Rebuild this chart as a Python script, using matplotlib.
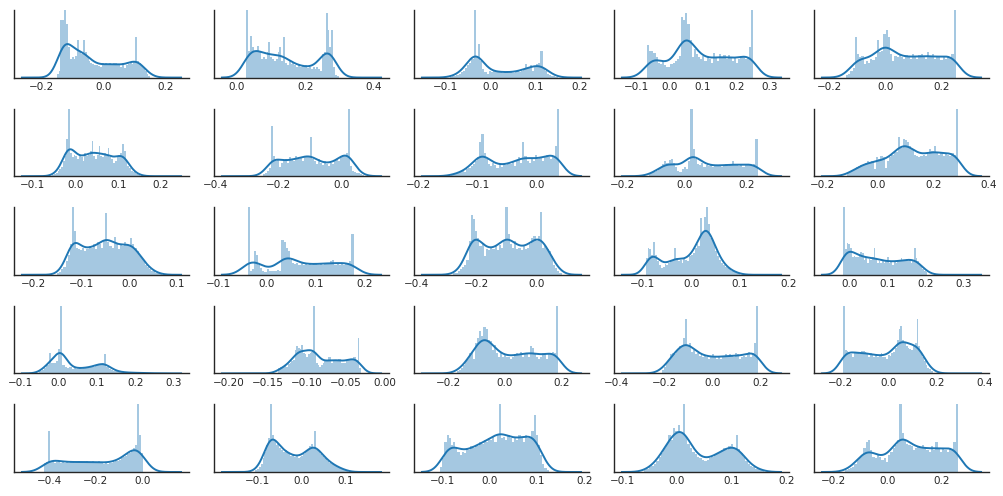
import numpy as np
import matplotlib
matplotlib.use('Agg')
import matplotlib.pyplot as plt

# histogram range (first / last bin edge) of each panel, row by row
hist_lo = [-0.15, 0.027, -0.09, -0.067, -0.14,
           -0.055, -0.25, -0.145, -0.115, -0.11,
           -0.15, -0.04, -0.276, -0.093, -0.015,
           -0.05, -0.137, -0.168, -0.21, -0.188,
           -0.42, -0.105, -0.105, -0.06, -0.155]
hist_hi = [0.15, 0.297, 0.15, 0.25, 0.25,
           0.155, 0.07, 0.037, 0.235, 0.29,
           0.068, 0.178, 0.084, 0.1, 0.205,
           0.25, -0.031, 0.189, 0.19, 0.185,
           0.0, 0.105, 0.125, 0.16, 0.26]

# 50 bar heights per panel (relative, tallest bar = 100)
heights = [
    [5, 10, 85, 85, 100, 80, 45, 28, 30, 28, 32, 55, 40, 35, 55, 38, 30, 25, 22, 20,
     18, 18, 17, 16, 22, 20, 22, 19, 21, 18, 21, 22, 18, 20, 16, 22, 14, 18, 20, 22,
     20, 24, 60, 25, 22, 18, 14, 10, 6, 3],
    [100, 40, 62, 45, 40, 38, 47, 40, 28, 30, 28, 38, 52, 30, 28, 25, 28, 38, 45, 25,
     60, 22, 18, 25, 20, 22, 18, 15, 20, 16, 18, 16, 18, 14, 15, 12, 15, 13, 16, 12,
     10, 35, 38, 96, 70, 45, 70, 15, 4, 2],
    [1, 2, 3, 4, 6, 8, 10, 14, 18, 22, 28, 100, 30, 50, 25, 12, 8, 6, 10, 8,
     10, 9, 8, 9, 7, 8, 9, 7, 8, 7, 8, 9, 8, 10, 12, 20, 14, 18, 10, 15,
     20, 22, 40, 14, 10, 6, 4, 3, 2, 1],
    [48, 40, 40, 36, 30, 22, 20, 24, 18, 16, 15, 20, 22, 25, 28, 32, 90, 85, 95, 80,
     55, 30, 42, 35, 30, 28, 32, 25, 30, 28, 22, 36, 30, 25, 35, 30, 34, 28, 33, 30,
     25, 30, 22, 28, 32, 30, 28, 30, 45, 100],
    [4, 6, 10, 14, 60, 35, 30, 32, 20, 25, 22, 28, 26, 30, 55, 38, 40, 65, 70, 60,
     35, 25, 32, 30, 35, 30, 28, 33, 30, 28, 35, 30, 28, 33, 35, 30, 28, 38, 30, 35,
     28, 32, 30, 26, 30, 28, 32, 30, 35, 100],
    [2, 3, 5, 8, 10, 14, 22, 30, 55, 100, 35, 28, 32, 30, 25, 32, 28, 22, 35, 30,
     32, 38, 52, 30, 25, 32, 45, 30, 28, 35, 30, 42, 28, 25, 20, 22, 30, 32, 35, 47,
     38, 22, 15, 12, 8, 6, 4, 3, 2, 1],
    [3, 5, 8, 12, 75, 30, 22, 26, 14, 20, 22, 26, 20, 28, 24, 22, 30, 26, 28, 22,
     30, 28, 30, 58, 26, 22, 18, 25, 20, 16, 22, 18, 15, 20, 18, 22, 25, 22, 28, 32,
     30, 35, 100, 15, 8, 6, 5, 4, 3, 2],
    [2, 3, 4, 5, 6, 8, 6, 10, 12, 15, 18, 22, 28, 50, 62, 35, 25, 18, 15, 20,
     16, 12, 18, 14, 18, 16, 20, 18, 22, 15, 24, 28, 20, 50, 30, 22, 20, 26, 22, 32,
     25, 28, 22, 30, 32, 28, 25, 28, 45, 100],
    [3, 4, 6, 8, 10, 12, 18, 22, 20, 24, 26, 20, 14, 8, 6, 10, 14, 10, 22, 100,
     40, 25, 18, 16, 20, 14, 16, 15, 18, 14, 16, 15, 17, 14, 16, 18, 15, 17, 22, 16,
     18, 15, 17, 14, 18, 16, 18, 15, 18, 55],
    [4, 6, 8, 10, 14, 15, 16, 18, 20, 22, 20, 22, 10, 28, 26, 30, 28, 12, 22, 28,
     32, 38, 36, 58, 42, 55, 54, 50, 45, 40, 32, 30, 28, 30, 32, 30, 33, 40, 38, 45,
     34, 32, 35, 30, 33, 32, 30, 34, 32, 100],
    [2, 4, 8, 12, 20, 30, 45, 100, 65, 40, 38, 36, 40, 35, 38, 42, 40, 45, 38, 48,
     45, 40, 50, 92, 48, 42, 40, 56, 45, 38, 45, 42, 48, 45, 42, 55, 45, 40, 35, 28,
     25, 20, 15, 12, 8, 6, 5, 3, 2, 1],
    [100, 5, 8, 35, 30, 15, 10, 6, 4, 8, 6, 5, 6, 5, 7, 6, 52, 48, 40, 35,
     22, 18, 16, 18, 15, 17, 14, 16, 15, 17, 14, 16, 18, 15, 16, 14, 18, 16, 17, 20,
     22, 15, 16, 14, 17, 15, 16, 18, 20, 60],
    [2, 3, 5, 8, 12, 15, 22, 50, 89, 82, 65, 55, 42, 45, 28, 38, 36, 40, 38, 42,
     36, 44, 40, 50, 100, 60, 45, 40, 50, 38, 40, 36, 42, 38, 40, 45, 55, 57, 50, 58,
     93, 40, 42, 38, 35, 28, 15, 10, 6, 3],
    [25, 40, 38, 30, 49, 30, 20, 15, 10, 12, 16, 15, 18, 20, 22, 40, 25, 20, 22, 18,
     25, 22, 20, 28, 30, 32, 40, 45, 42, 84, 62, 86, 100, 75, 55, 50, 45, 35, 28, 22,
     18, 14, 12, 10, 8, 6, 5, 4, 3, 2],
    [100, 38, 47, 45, 40, 27, 28, 27, 26, 28, 33, 32, 22, 26, 18, 24, 22, 26, 40, 25,
     18, 20, 18, 20, 18, 22, 27, 18, 20, 14, 20, 18, 20, 22, 25, 20, 22, 24, 20, 22,
     18, 22, 40, 25, 20, 15, 12, 8, 6, 4],
    [3, 5, 8, 12, 30, 16, 15, 18, 36, 100, 12, 10, 8, 9, 7, 8, 7, 8, 7, 8,
     9, 8, 10, 10, 12, 13, 14, 15, 28, 10, 7, 5, 4, 3, 2, 2, 2, 1, 1, 1,
     1, 1, 1, 1, 0, 1, 0, 0, 0, 1],
    [8, 10, 8, 10, 12, 10, 14, 15, 18, 20, 35, 40, 38, 36, 42, 30, 28, 25, 28, 30,
     32, 100, 30, 15, 12, 10, 12, 15, 18, 20, 25, 25, 15, 18, 20, 20, 22, 22, 15, 16,
     15, 18, 20, 22, 22, 24, 25, 20, 52, 8],
    [3, 5, 8, 12, 18, 22, 30, 32, 22, 45, 52, 62, 55, 68, 65, 50, 48, 35, 42, 30,
     25, 30, 25, 28, 24, 25, 22, 25, 28, 30, 28, 32, 25, 28, 30, 25, 40, 38, 30, 25,
     22, 25, 30, 28, 22, 28, 30, 32, 30, 100],
    [5, 10, 15, 20, 28, 30, 28, 35, 35, 40, 40, 52, 80, 42, 45, 32, 35, 28, 30, 26,
     28, 25, 26, 24, 22, 25, 28, 24, 22, 25, 22, 24, 26, 28, 25, 28, 26, 24, 30, 28,
     22, 25, 26, 24, 28, 32, 25, 30, 45, 100],
    [100, 35, 33, 30, 28, 25, 30, 32, 30, 28, 33, 33, 32, 30, 25, 30, 28, 25, 28, 25,
     27, 30, 25, 24, 22, 27, 26, 30, 32, 38, 50, 65, 70, 50, 45, 40, 38, 36, 35, 40,
     45, 80, 40, 30, 25, 18, 12, 8, 6, 4],
    [14, 15, 60, 15, 16, 14, 15, 16, 13, 15, 14, 16, 14, 15, 16, 13, 15, 16, 14, 14,
     15, 16, 13, 15, 16, 14, 15, 16, 14, 15, 12, 13, 12, 14, 13, 15, 16, 17, 18, 20,
     22, 24, 26, 28, 32, 36, 40, 100, 55, 28],
    [3, 4, 7, 12, 20, 30, 40, 50, 100, 55, 48, 40, 42, 35, 33, 30, 32, 28, 28, 24,
     25, 22, 23, 20, 22, 24, 27, 30, 33, 38, 42, 35, 60, 32, 32, 27, 24, 20, 20, 16,
     14, 12, 10, 9, 8, 6, 5, 4, 3, 2],
    [8, 20, 45, 55, 50, 40, 45, 35, 30, 25, 30, 28, 35, 32, 38, 35, 40, 38, 45, 42,
     48, 45, 50, 48, 52, 45, 55, 100, 50, 52, 48, 55, 50, 45, 52, 48, 55, 50, 45, 55,
     50, 52, 60, 85, 55, 40, 25, 12, 6, 3],
    [3, 5, 7, 9, 12, 16, 22, 28, 35, 42, 55, 48, 65, 60, 70, 58, 100, 52, 42, 35,
     30, 26, 22, 20, 18, 17, 18, 20, 22, 26, 28, 30, 32, 35, 33, 38, 42, 36, 55, 34,
     28, 22, 16, 12, 9, 7, 5, 4, 3, 2],
    [3, 5, 6, 8, 12, 18, 22, 25, 35, 45, 48, 32, 22, 20, 25, 22, 18, 20, 15, 25,
     30, 35, 40, 48, 100, 58, 48, 42, 40, 38, 32, 35, 38, 35, 40, 35, 32, 30, 38, 32,
     45, 35, 30, 35, 32, 30, 35, 32, 45, 100],
]

# x axis limits and tick values of each panel
x_limits = [(-0.287, 0.274), (-0.067, 0.444), (-0.17, 0.22), (-0.166, 0.357), (-0.254, 0.368),
            (-0.1445, 0.266), (-0.406, 0.149), (-0.208, 0.088), (-0.228, 0.336), (-0.229, 0.401),
            (-0.24, 0.125), (-0.109, 0.251), (-0.407, 0.175), (-0.158, 0.2005), (-0.092, 0.366),
            (-0.116, 0.339), (-0.219, 0.005), (-0.321, 0.298), (-0.411, 0.319), (-0.308, 0.418),
            (-0.549, 0.196), (-0.198, 0.198), (-0.16, 0.21), (-0.115, 0.205), (-0.271, 0.375)]
x_ticks = [[-0.2, 0.0, 0.2], [0.0, 0.2, 0.4], [-0.1, 0.0, 0.1, 0.2], [-0.1, 0.0, 0.1, 0.2, 0.3], [-0.2, 0.0, 0.2],
           [-0.1, 0.0, 0.1, 0.2], [-0.4, -0.2, 0.0], [-0.2, -0.1, 0.0], [-0.2, 0.0, 0.2], [-0.2, 0.0, 0.2, 0.4],
           [-0.2, -0.1, 0.0, 0.1], [-0.1, 0.0, 0.1, 0.2], [-0.4, -0.2, 0.0], [-0.1, 0.0, 0.1, 0.2], [0.0, 0.1, 0.2, 0.3],
           [-0.1, 0.0, 0.1, 0.2, 0.3], [-0.2, -0.15, -0.1, -0.05, 0.0], [-0.2, 0.0, 0.2], [-0.4, -0.2, 0.0, 0.2], [-0.2, 0.0, 0.2, 0.4],
           [-0.4, -0.2, 0.0], [-0.1, 0.0, 0.1], [-0.1, 0.0, 0.1, 0.2], [-0.1, 0.0, 0.1, 0.2], [-0.2, 0.0, 0.2]]

blue = '#1f77b4'
n_samples = 1000  # nominal sample size for scott's bandwidth


def kde_from_hist(centers, dens, xs):
    w = dens / dens.sum()
    mean = np.sum(w * centers)
    std = np.sqrt(np.sum(w * (centers - mean) ** 2))
    bw = 1.06 * std * n_samples ** -0.2
    z = (xs[:, None] - centers[None, :]) / bw
    return (np.exp(-0.5 * z ** 2) * w[None, :]).sum(axis=1) / (bw * np.sqrt(2 * np.pi))


fig, axes = plt.subplots(5, 5, figsize=(10.04, 4.96), dpi=100)
fig.subplots_adjust(left=14 / 1004, right=989 / 1004, top=1 - 10 / 496, bottom=1 - 472 / 496,
                    wspace=25 / 175, hspace=31 / 67.5)

for k, ax in enumerate(axes.flat):
    h = np.array(heights[k], dtype=float)
    edges = np.linspace(hist_lo[k], hist_hi[k], len(h) + 1)
    width = edges[1] - edges[0]
    dens = h / (h.sum() * width)
    centers = edges[:-1] + width / 2

    ax.bar(edges[:-1], dens, width=width, align='edge', color=blue, alpha=0.4, linewidth=0)

    lo, hi = x_limits[k]
    pad = (hi - lo) * 0.05 / 1.1
    xs = np.linspace(lo + pad, hi - pad, 300)
    ax.plot(xs, kde_from_hist(centers, dens, xs), color=blue, lw=1.4)

    ax.set_xlim(lo, hi)
    ax.set_ylim(0, dens.max())
    ax.set_xticks(x_ticks[k])
    ax.set_yticks([])
    ax.tick_params(axis='x', length=0, labelsize=7.5, pad=3, colors='#262626')
    for side in ('top', 'right'):
        ax.spines[side].set_visible(False)
    for side in ('left', 'bottom'):
        ax.spines[side].set_color('#262626')
        ax.spines[side].set_linewidth(1.0)

fig.savefig('out.png', dpi=100)
